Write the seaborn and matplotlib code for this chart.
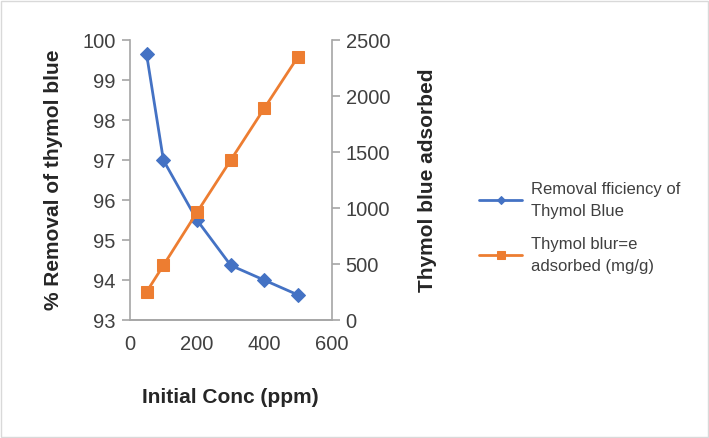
import matplotlib.pyplot as plt
import seaborn as sns
import pandas as pd

conc = [50, 100, 200, 300, 400, 500]
removal = [99.65, 97.0, 95.5, 94.37, 94.0, 93.63]
adsorbed = [253, 490, 965, 1430, 1895, 2355]

sns.set_style('white')
plt.rcParams['font.family'] = ['Liberation Sans', 'DejaVu Sans']

df = pd.DataFrame({'conc': conc, 'removal': removal, 'adsorbed': adsorbed})

fig = plt.figure(figsize=(7.09, 4.38), dpi=100)
ax1 = fig.add_axes([0.183, 0.269, 0.285, 0.639])
ax2 = ax1.twinx()

blue = '#4472C4'
orange = '#ED7D31'
gray = '#A6A6A6'

sns.lineplot(data=df, x='conc', y='removal', ax=ax1, color=blue, marker='D',
             markersize=7, markeredgecolor=blue, linewidth=2,
             label='Removal fficiency of\nThymol Blue', legend=False)
sns.lineplot(data=df, x='conc', y='adsorbed', ax=ax2, color=orange, marker='s',
             markersize=9, markeredgecolor=orange, linewidth=2,
             label='Thymol blur=e\nadsorbed (mg/g)', legend=False)

ax1.set_xlim(0, 600)
ax1.set_ylim(93, 100)
ax2.set_ylim(0, 2500)
ax1.set_xticks([0, 200, 400, 600])
ax1.set_yticks(range(93, 101))
ax2.set_yticks(range(0, 2501, 500))

ax1.set_xlabel('Initial Conc (ppm)', fontsize=15, fontweight='bold', labelpad=24)
ax1.set_ylabel('% Removal of thymol blue', fontsize=15, fontweight='bold', labelpad=14)
ax2.set_ylabel('Thymol blue adsorbed', fontsize=15, fontweight='bold', labelpad=20)

for ax in (ax1, ax2):
    ax.spines['top'].set_visible(False)
    for s in ['left', 'right', 'bottom']:
        ax.spines[s].set_color(gray)
        ax.spines[s].set_linewidth(1.2)
    ax.tick_params(axis='both', colors=gray, labelcolor='#404040', labelsize=14.5,
                   direction='out', length=6, width=1.2)
ax1.tick_params(axis='y', left=True, right=False, pad=4)
ax2.tick_params(axis='y', left=False, right=True, pad=4)
ax1.tick_params(axis='x', pad=5)
ax1.spines['right'].set_visible(False)
ax2.spines['left'].set_visible(False)

h1, l1 = ax1.get_legend_handles_labels()
h2, l2 = ax2.get_legend_handles_labels()
leg = fig.legend(h1 + h2, l1 + l2, loc='center left', bbox_to_anchor=(0.664, 0.48),
                 frameon=False, fontsize=12, handlelength=2.6, labelspacing=1.1,
                 markerscale=0.6, handletextpad=0.5, borderpad=0)
for t in leg.get_texts():
    t.set_linespacing(1.55)
    t.set_color('#404040')

# outer frame like the source
fig.patches.append(plt.Rectangle((0.002, 0.002), 0.996, 0.996, transform=fig.transFigure,
                                 fill=False, edgecolor='#D9D9D9', linewidth=1))

plt.savefig('out.png', dpi=100)
plt.close()
